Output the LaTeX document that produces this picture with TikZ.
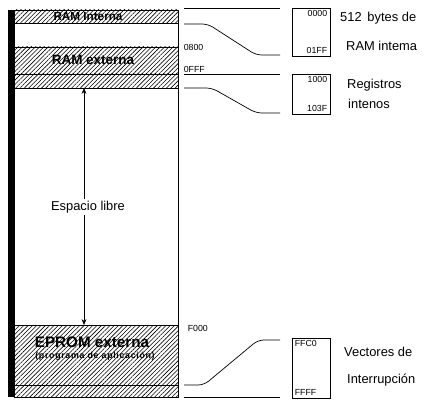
\documentclass[tikz,border=0pt]{standalone}
\usepackage{fontspec}
\setmainfont{Liberation Sans}
\usetikzlibrary{arrows.meta,patterns.meta}

\begin{document}
\begin{tikzpicture}[x=0.03cm, y=-0.03cm,
  hatch/.style={draw=black, line width=0.6pt,
                pattern={Lines[angle=45, distance=2.6pt, line width=0.5pt]}},
  zone/.style={font=\bfseries\fontsize{11}{12}\selectfont, inner sep=1pt},
  addr/.style={font=\fontsize{7.5}{8}\selectfont, inner sep=0.5pt},
  lead/.style={line width=0.6pt, rounded corners=5pt},
  adrbox/.style={draw, line width=0.6pt, minimum width=1.14cm, inner sep=0pt},
  note/.style={font=\fontsize{11}{12}\selectfont, anchor=west, inner sep=0pt}
]
  \useasboundingbox (0,0) rectangle (427,401);

  % memory column
  \fill (8,10) rectangle (14,397);
  \draw[hatch] (14,10) rectangle (178,23);
  \draw[hatch] (14,47) rectangle (178,74);
  \draw[hatch] (14,74) rectangle (178,88);
  \draw[hatch] (14,325) rectangle (178,385);
  \draw[hatch] (14,385) rectangle (178,397);
  \draw[line width=0.6pt] (14,10) rectangle (178,397);

  \node[zone, font=\bfseries\fontsize{10}{11}\selectfont] (ramint) at (88,16.5) {RAM Interna};
  \node[zone, font=\bfseries\fontsize{11.5}{12}\selectfont] (ramext) at (93,60) {RAM externa};
  \node[zone, font=\bfseries\fontsize{13}{14}\selectfont] (eprom) at (92,342) {EPROM externa};
  \node[zone, font=\bfseries\fontsize{7.5}{8}\selectfont\addfontfeature{LetterSpace=8}] (aplic) at (95,356) {(programa de aplicación)};

  % free space arrow
  \coordinate (libtop) at (84,88);
  \coordinate (libbot) at (84,325);
  \draw[{Stealth[length=5pt,width=4pt]}-{Stealth[length=5pt,width=4pt]}] (libtop) -- (libbot);
  \node[fill=white, font=\fontsize{11}{12}\selectfont, inner sep=2pt] (libre) at (88,207) {Espacio libre};

  % addresses beside the column
  \node[addr, anchor=west] (a0800) at (183,47) {0800};
  \node[addr, anchor=west] (a0fff) at (183,69) {0FFF};
  \node[addr, anchor=west] (af000) at (187,328) {F000};

  % address boxes
  \node[adrbox, minimum height=1.44cm] (box1) at (311,32) {};
  \node[adrbox, minimum height=1.2cm]  (box2) at (311,94) {};
  \node[adrbox, minimum height=1.8cm]  (box3) at (311,368) {};

  \node[addr, anchor=north east] at ([shift={(-2pt,-2pt)}]box1.north east) {0000};
  \node[addr, anchor=south east] at ([shift={(-2pt,2pt)}]box1.south east) {01FF};
  \node[addr, anchor=north east] at ([shift={(-2pt,-2pt)}]box2.north east) {1000};
  \node[addr, anchor=south east] at ([shift={(-2pt,2pt)}]box2.south east) {103F};
  \node[addr, anchor=north west] at ([shift={(2pt,-2pt)}]box3.north west) {FFC0};
  \node[addr, anchor=south west] at ([shift={(2pt,2pt)}]box3.south west) {FFFF};

  % leads from the column to the boxes
  \coordinate (l1a) at (184,8);   \coordinate (l1b) at (280,8);
  \coordinate (c1a) at (184,24);  \coordinate (c1b) at (280,55);
  \coordinate (l2a) at (184,74);  \coordinate (l2b) at (280,74);
  \coordinate (c2a) at (184,88);  \coordinate (c2b) at (280,113);
  \coordinate (c3a) at (184,385); \coordinate (c3b) at (280,340);
  \coordinate (l3a) at (184,397); \coordinate (l3b) at (280,397);

  \draw[lead] (l1a) -- (l1b);
  \draw[lead] (c1a) -- (208,24) -- (256,55) -- (c1b);
  \draw[lead] (l2a) -- (l2b);
  \draw[lead] (c2a) -- (212,88) -- (256,113) -- (c2b);
  \draw[lead] (c3a) -- (204,385) -- (258,340) -- (c3b);
  \draw[lead] (l3a) -- (l3b);

  % descriptions
  \node[note] (n1) at (340,18)  {512\, bytes de};
  \node[note] (n2) at (346,46)  {RAM intema};
  \node[note] (n3) at (347,85)  {Registros};
  \node[note] (n4) at (348,104) {intenos};
  \node[note] (n5) at (344,352) {Vectores de};
  \node[note] (n6) at (347,380) {Interrupción};
\end{tikzpicture}
\end{document}
